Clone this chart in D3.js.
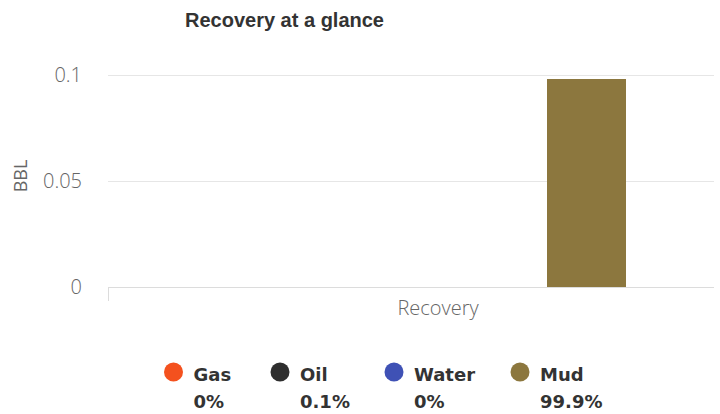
<!DOCTYPE html>
<html><head><meta charset="utf-8">
<script src="https://cdnjs.cloudflare.com/ajax/libs/d3/7.8.5/d3.min.js"></script>
<style>
html,body{margin:0;padding:0;background:#fff;}
svg{display:block;}
</style></head>
<body>
<svg id="chart" width="720" height="414"></svg>
<script>
const categories = ["Recovery"];
const seriesNames = ["Gas", "Oil", "Water", "Mud"];
const seriesColors = ["#f4511e", "#2e2e2e", "#3f51b5", "#8c773e"];
const seriesValues = [0, 0.0001, 0, 0.0981];
const percentLabels = ["0%", "0.1%", "0%", "99.9%"];
const yTicks = [0, 0.05, 0.1];
const yTickLabels = ["0", "0.05", "0.1"];
const chartTitle = "Recovery at a glance";
const yTitle = "BBL";

(function () {
const svg = d3.select("#chart");
const pLeft = 108, pRight = 768, pTop = 75, pBottom = 287;
const gridEnd = 714;

const y = d3.scaleLinear().domain([0, 0.1]).range([pBottom, pTop]);
const x = d3.scaleBand().domain(categories).range([pLeft, pRight]).padding(0);
const bw = x.bandwidth();
const xs = d3.scaleBand().domain(seriesNames)
  .range([bw * 0.2, bw * 0.8]).paddingInner(0.2).paddingOuter(0.1);

// gridlines
svg.append("g").selectAll("line").data(yTicks).join("line")
  .attr("x1", pLeft).attr("x2", gridEnd)
  .attr("y1", d => Math.round(y(d)) + 0.5).attr("y2", d => Math.round(y(d)) + 0.5)
  .attr("stroke", "#e6e6e6").attr("stroke-width", 1);

// y labels
svg.append("g").selectAll("text").data(yTicks).join("text")
  .attr("x", 82).attr("y", d => y(d) + 7)
  .attr("text-anchor", "end")
  .attr("font-family", "'Open Sans', sans-serif").attr("font-size", 20)
  .attr("font-weight", 300)
  .attr("fill", "#666")
  .text((d, i) => yTickLabels[i]);

// y title
svg.append("text")
  .attr("transform", `translate(27,176) rotate(-90)`)
  .attr("text-anchor", "middle")
  .attr("font-family", "'Open Sans', sans-serif").attr("font-size", 18)
  .attr("fill", "#666").text(yTitle);

// bars (pixel-crisp like the original renderer)
const g = svg.append("g");
categories.forEach(cat => {
  g.selectAll("rect.b").data(seriesNames).join("rect")
    .attr("class", "b")
    .attr("x", s => Math.round(x(cat) + xs(s)))
    .attr("width", Math.round(xs.bandwidth()))
    .attr("y", (s, i) => Math.round(y(seriesValues[i])))
    .attr("height", (s, i) => Math.max(0, Math.round(y(0)) - Math.round(y(seriesValues[i])) + 1))
    .attr("fill", (s, i) => seriesColors[i])
    .attr("display", (s, i) => Math.round(y(0)) - Math.round(y(seriesValues[i])) > 0 ? null : "none");
});

// x axis line and ticks
svg.append("line").attr("x1", pLeft).attr("x2", gridEnd)
  .attr("y1", Math.round(pBottom) + 0.5).attr("y2", Math.round(pBottom) + 0.5)
  .attr("stroke", "#dcdcdc");
svg.append("g").selectAll("line").data(x.range()).join("line")
  .attr("x1", d => d + 0.5).attr("x2", d => d + 0.5)
  .attr("y1", Math.round(pBottom)).attr("y2", Math.round(pBottom) + 14)
  .attr("stroke", "#dcdcdc");
svg.append("g").selectAll("text").data(categories).join("text")
  .attr("x", d => x(d) + bw / 2).attr("y", 315)
  .attr("text-anchor", "middle")
  .attr("font-family", "'Open Sans', sans-serif").attr("font-size", 20)
  .attr("font-weight", 300)
  .attr("fill", "#666").text(d => d);

// title
svg.append("text").attr("x", 185).attr("y", 27)
  .attr("font-family", "'Liberation Sans', Arial, sans-serif")
  .attr("font-size", 20).attr("font-weight", "bold")
  .attr("fill", "#333").text(chartTitle);

// legend
const legendX = [173.5, 280, 394, 520];
const lg = svg.append("g").selectAll("g").data(seriesNames).join("g")
  .attr("transform", (d, i) => `translate(${legendX[i]},372)`);
lg.append("circle").attr("r", 9.5).attr("fill", (d, i) => seriesColors[i]);
lg.append("text").attr("x", 20).attr("y", 8.5)
  .attr("font-family", "'DejaVu Sans', sans-serif").attr("font-size", 18)
  .attr("font-weight", "bold").attr("fill", "#333").text(d => d);
lg.append("text").attr("x", 20).attr("y", 35.5)
  .attr("font-family", "'DejaVu Sans', sans-serif").attr("font-size", 18)
  .attr("font-weight", "bold").attr("fill", "#333").text((d, i) => percentLabels[i]);
})();
</script>
</body></html>
